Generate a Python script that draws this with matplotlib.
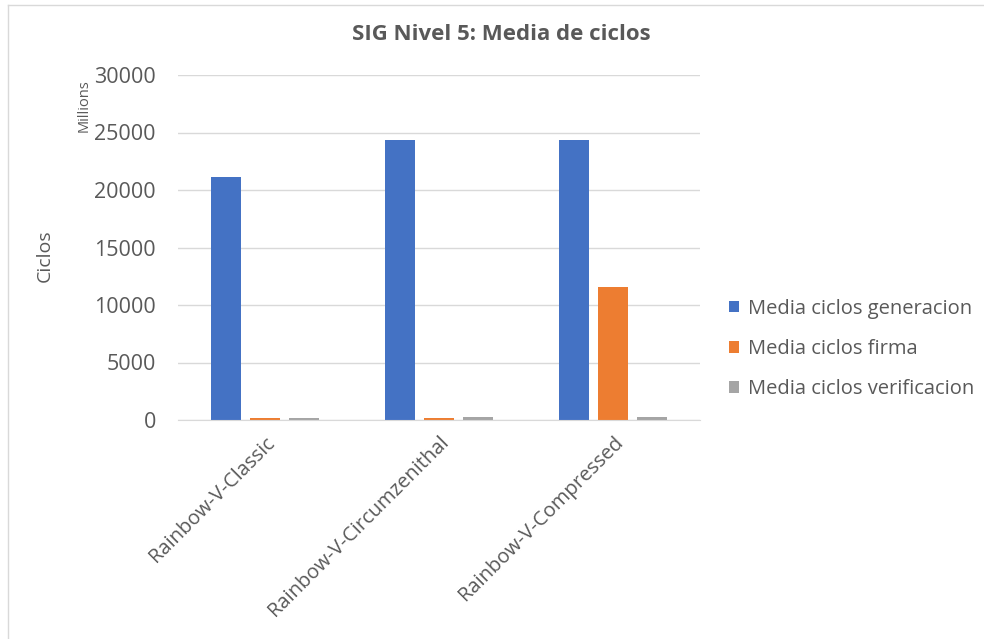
import numpy as np
import matplotlib as mpl
import matplotlib.pyplot as plt
from matplotlib.lines import Line2D

mpl.rcParams["font.family"] = ["Open Sans", "DejaVu Sans"]

# Mean cycles per variant (millions)
variants = ["Rainbow-V-Classic", "Rainbow-V-Circumzenithal", "Rainbow-V-Compressed"]
media_generacion = [21150, 24370, 24370]
media_firma = [160, 170, 11550]
media_verificacion = [180, 240, 230]
series_names = ["Media ciclos generacion", "Media ciclos firma", "Media ciclos verificacion"]
yticks = [0, 5000, 10000, 15000, 20000, 25000, 30000]

colors = ["#4472C4", "#ED7D31", "#A5A5A5"]
text_col = "#595959"

fig = plt.figure(figsize=(9.84, 6.39), dpi=100)
ax = fig.add_axes([178 / 984, 1 - 420 / 639, 522 / 984, 345 / 639])

x = np.arange(len(variants))
width = 30 / 174
step = 39 / 174
for i, (vals, name) in enumerate(zip([media_generacion, media_firma, media_verificacion], series_names)):
    ax.bar(x + (i - 1) * step, vals, width, color=colors[i], label=name, zorder=3)

ax.set_xlim(-0.5, 2.5)
ax.set_ylim(0, 30000)
ax.set_yticks(yticks)
ax.set_yticklabels([str(t) for t in yticks], fontsize=15.5, color=text_col)
ax.set_xticks(x)
ax.set_xticklabels(variants, rotation=45, ha="right", rotation_mode="anchor",
                   fontsize=14.5, color=text_col)
ax.tick_params(axis="both", length=0)
ax.tick_params(axis="y", pad=16)
ax.tick_params(axis="x", pad=9)
ax.grid(axis="y", color="#D9D9D9", linewidth=1, zorder=0)
for s in ["top", "right", "left"]:
    ax.spines[s].set_visible(False)
ax.spines["bottom"].set_color("#D9D9D9")
ax.spines["bottom"].set_zorder(4)

fig.text(501 / 984, 1 - 35 / 639, "SIG Nivel 5: Media de ciclos", fontsize=16,
         fontweight="bold", color=text_col, ha="center", va="center")
fig.text(45 / 984, 1 - 256 / 639, "Ciclos", rotation=90, fontsize=14,
         color=text_col, ha="center", va="center")
fig.text(84 / 984, 1 - 106 / 639, "Millions", rotation=90, fontsize=10.5,
         color=text_col, ha="center", va="center")

ax.legend(loc="center left", bbox_to_anchor=(729 / 984, 1 - 349 / 639),
          bbox_transform=fig.transFigure, frameon=False, fontsize=14.5,
          borderpad=0, borderaxespad=0,
          handlelength=0.5, handleheight=0.5, handletextpad=0.45,
          labelspacing=1.0, labelcolor=text_col)

# chart area border
fig.add_artist(Line2D([8 / 984, 8 / 984], [0, 1 - 5 / 639], color="#D9D9D9", lw=1))
fig.add_artist(Line2D([8 / 984, 1], [1 - 5 / 639, 1 - 5 / 639], color="#D9D9D9", lw=1))

fig.savefig("out.png", dpi=100)
